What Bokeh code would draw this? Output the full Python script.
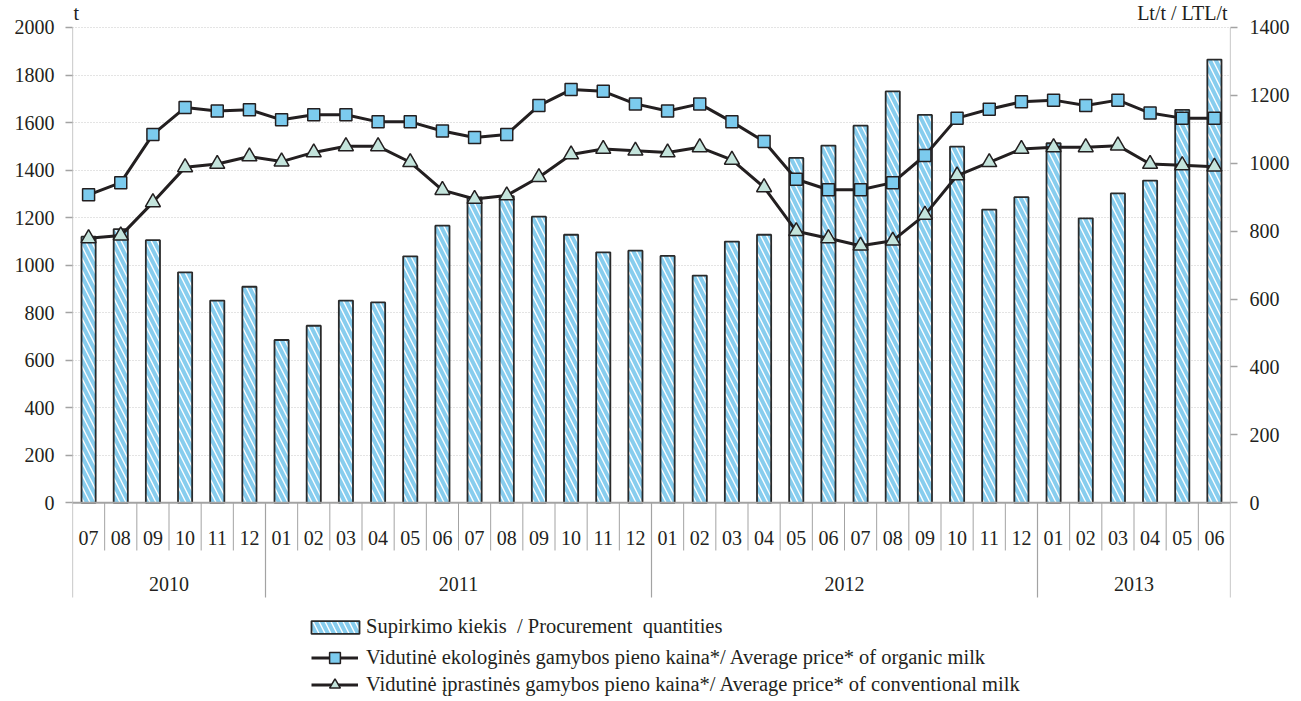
import numpy as np
from bokeh.plotting import figure
from bokeh.models import (Range1d, LinearAxis, FixedTicker, Legend, LegendItem,
                          Label, ColumnDataSource)
from bokeh.embed import file_html
from bokeh.resources import INLINE
from bokeh.core.properties import value

# ---------------- data ----------------
months = ["07", "08", "09", "10", "11", "12",
          "01", "02", "03", "04", "05", "06", "07", "08", "09", "10", "11", "12",
          "01", "02", "03", "04", "05", "06", "07", "08", "09", "10", "11", "12",
          "01", "02", "03", "04", "05", "06"]
years = (["2010"] * 6 + ["2011"] * 12 + ["2012"] * 12 + ["2013"] * 6)

# Procurement quantities, t (left axis)
quantities = [1120, 1152, 1105, 970, 851, 909, 685, 745, 851, 843, 1037, 1166,
              1285, 1290, 1204, 1128, 1054, 1061, 1039, 956, 1099, 1128, 1451, 1503,
              1587, 1731, 1632, 1499, 1234, 1286, 1513, 1197, 1302, 1356, 1653, 1865]
# Average price of organic milk, Lt/t (right axis)
organic = [907, 943, 1085, 1164, 1154, 1158, 1128, 1143, 1143, 1122, 1122, 1095,
           1076, 1085, 1170, 1217, 1212, 1175, 1154, 1175, 1122, 1064, 953, 922,
           922, 943, 1023, 1133, 1159, 1181, 1186, 1170, 1186, 1148, 1133, 1133]
# Average price of conventional milk, Lt/t (right axis)
conventional = [779, 787, 885, 988, 998, 1020, 1005, 1032, 1050, 1050, 1003, 921,
                895, 905, 959, 1026, 1042, 1037, 1032, 1047, 1010, 929, 800, 779,
                757, 772, 848, 964, 1003, 1042, 1047, 1047, 1052, 998, 994, 990]

left_ticks = list(range(0, 2001, 200))
right_ticks = list(range(0, 1401, 200))

label_bar = "Supirkimo kiekis  / Procurement  quantities"
label_org = "Vidutinė ekologinės gamybos pieno kaina*/ Average price* of organic milk"
label_conv = "Vidutinė įprastinės gamybos pieno kaina*/ Average price* of conventional milk"

# ---------------- derived positions ----------------
n = len(months)
xc = np.arange(n) + 0.5
src = ColumnDataSource(dict(x=xc, q=quantities, org=organic, conv=conventional, m=months))

yr_names, yr_start, yr_end = [], [], []
for i, y in enumerate(years):
    if not yr_names or yr_names[-1] != y:
        yr_names.append(y)
        yr_start.append(i)
        yr_end.append(i + 1)
    else:
        yr_end[-1] = i + 1
yr_center = [(a + b) / 2 for a, b in zip(yr_start, yr_end)]
year_bounds = sorted(set(yr_start + yr_end))
month_bounds = [b for b in range(1, n) if b not in year_bounds]

FONT = "Liberation Serif"
TXT = "#231f20"
GRAY = "#a3a3a3"

p = figure(width=1301, height=701,
           x_range=Range1d(0, n), y_range=Range1d(-836.1, 2113.6),
           x_axis_location=None, y_axis_location="left",
           output_backend="svg", toolbar_location=None,
           min_border_left=72, min_border_right=71,
           min_border_top=0, min_border_bottom=0)
p.extra_y_ranges = {"price": Range1d(-585.3, 1479.5)}
p.outline_line_color = None
p.background_fill_color = "white"
p.border_fill_color = "white"

ya = p.yaxis[0]
ya.ticker = FixedTicker(ticks=left_ticks)
ya.axis_line_color = None
ya.major_tick_out = 7
ya.major_tick_in = 0
ya.major_tick_line_color = GRAY
ya.major_tick_line_width = 1.5
ya.minor_tick_line_color = None
ya.major_label_text_font = FONT
ya.major_label_text_font_size = "20px"
ya.major_label_text_color = TXT
ya.major_label_standoff = 11

ra = LinearAxis(y_range_name="price", ticker=FixedTicker(ticks=right_ticks))
ra.axis_line_color = None
ra.major_tick_out = 7
ra.major_tick_in = 0
ra.major_tick_line_color = GRAY
ra.major_tick_line_width = 1.5
ra.minor_tick_line_color = None
ra.major_label_text_font = FONT
ra.major_label_text_font_size = "20px"
ra.major_label_text_color = TXT
ra.major_label_standoff = 12
p.add_layout(ra, "right")

p.ygrid.ticker = FixedTicker(ticks=left_ticks[1:])
p.ygrid.grid_line_color = "#c8c8c8"
p.ygrid.grid_line_dash = "1 2"
p.ygrid.grid_line_width = 1
p.xgrid.visible = False

p.segment(x0=[0, n], y0=[0, 0], x1=[0, n], y1=[left_ticks[-1], left_ticks[-1]],
          line_color=GRAY, line_width=1.2)
p.segment(x0=month_bounds, y0=[0] * len(month_bounds), x1=month_bounds,
          y1=[-200.7] * len(month_bounds), line_color=GRAY, line_width=1)
p.segment(x0=year_bounds, y0=[0] * len(year_bounds), x1=year_bounds,
          y1=[-398.5] * len(year_bounds), line_color=GRAY, line_width=1.2)

bars = p.vbar(x="x", top="q", bottom=0, width=0.44, source=src,
              fill_color="white", line_color="#2a2a2a", line_width=1.8,
              hatch_pattern="left_diagonal_line", hatch_color="#87cdee",
              hatch_weight=4, hatch_scale=12)

p.segment(x0=[0], y0=[0], x1=[n], y1=[0], line_color=GRAY, line_width=2)

l_org = p.line(x="x", y="org", source=src, y_range_name="price",
               line_color=TXT, line_width=3)
s_org = p.scatter(x="x", y="org", source=src, y_range_name="price", marker="square",
                  size=12, fill_color="#7ccbee", line_color=TXT, line_width=1.5)
l_conv = p.line(x="x", y="conv", source=src, y_range_name="price",
                line_color=TXT, line_width=3)
s_conv = p.scatter(x="x", y="conv", source=src, y_range_name="price", marker="triangle",
                   size=15, fill_color="#c4e4dc", line_color=TXT, line_width=1.5)

p.text(x="x", y=-147.3, text="m", source=src, text_align="center", text_baseline="middle",
       text_font=value(FONT), text_font_size="20px", text_color=TXT)
p.text(x=yr_center, y=[-339.6] * len(yr_center), text=yr_names, text_align="center",
       text_baseline="middle", text_font=value(FONT), text_font_size="20px", text_color=TXT)

p.add_layout(Label(x=0, y=2062, x_offset=1, text="t", text_font=FONT,
                   text_font_size="20px", text_color=TXT, text_baseline="alphabetic"))
p.add_layout(Label(x=n, y=2062, x_offset=-3, text="Lt/t / LTL/t", text_font=FONT,
                   text_font_size="20px", text_color=TXT, text_align="right",
                   text_baseline="alphabetic"))

leg1 = Legend(items=[LegendItem(label=label_bar, renderers=[bars])],
              location=(233, 63), glyph_width=60, glyph_height=16, label_height=20,
              label_standoff=1, padding=0, margin=0, spacing=0,
              border_line_color=None, background_fill_alpha=0,
              label_text_font=FONT, label_text_font_size="20.5px", label_text_color=TXT)
leg2 = Legend(items=[LegendItem(label=label_org, renderers=[l_org, s_org]),
                     LegendItem(label=label_conv, renderers=[l_conv, s_conv])],
              location=(239, 3), glyph_width=47, glyph_height=27, label_height=20,
              label_standoff=8, padding=0, margin=0, spacing=0,
              border_line_color=None, background_fill_alpha=0,
              label_text_font=FONT, label_text_font_size="20.5px", label_text_color=TXT)
p.add_layout(leg1)
p.add_layout(leg2)

open("out.html", "w").write(file_html(p, INLINE))
